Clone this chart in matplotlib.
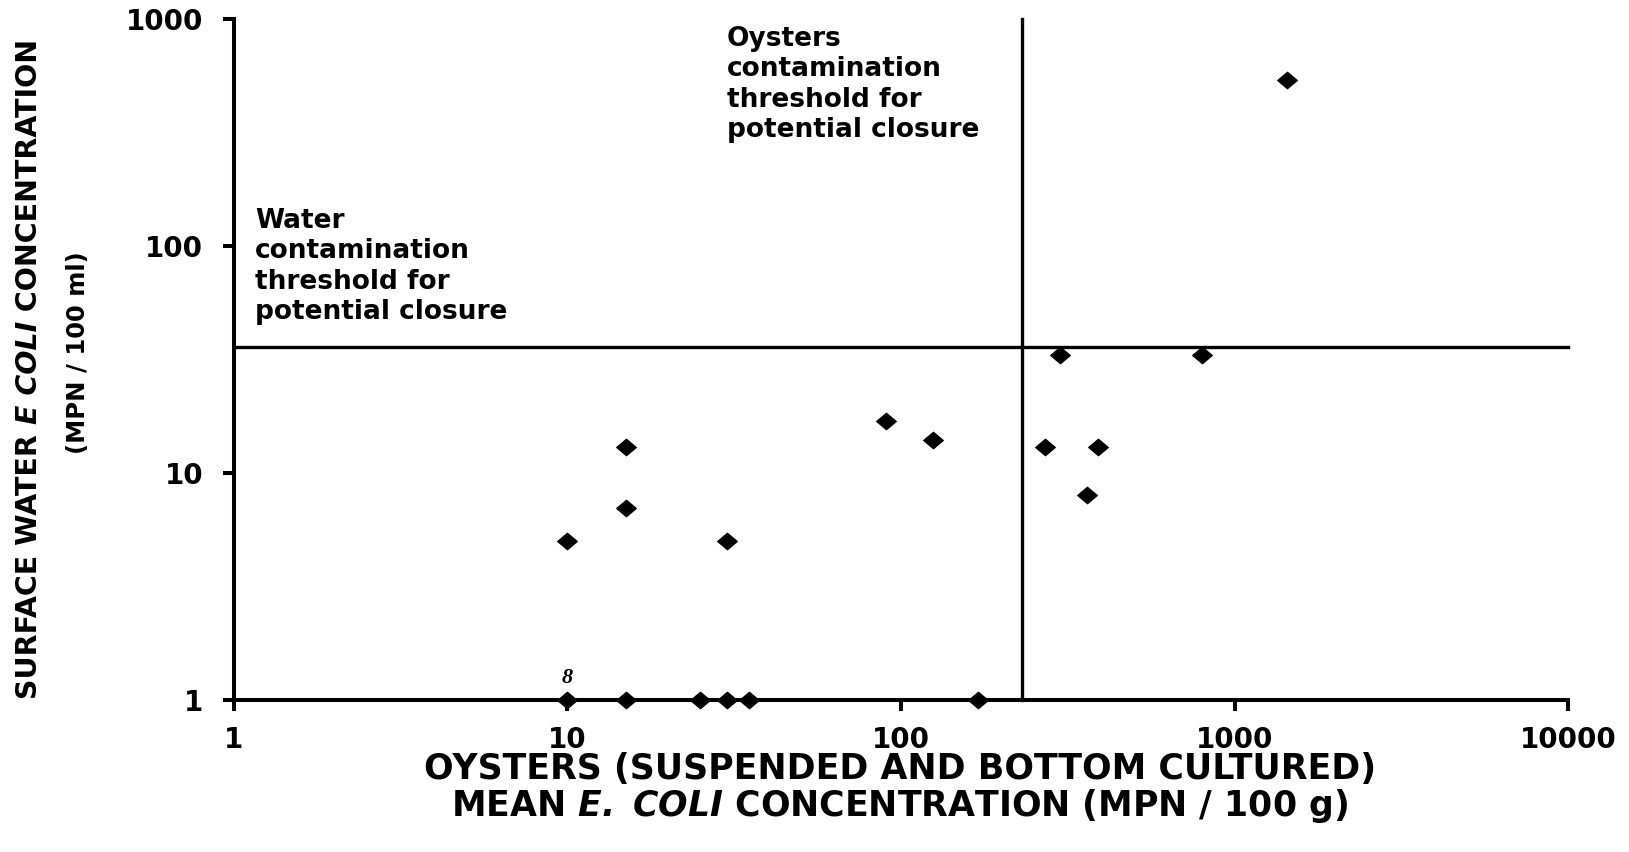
import numpy as np
import matplotlib
matplotlib.use("Agg")
import matplotlib.pyplot as plt
from matplotlib.path import Path

plt.rcParams['mathtext.fontset'] = 'custom'
plt.rcParams['mathtext.bf'] = 'DejaVu Sans:italic:bold'

# mean E. coli in oysters (MPN/100 g) vs surface water (MPN/100 ml)
oyster_ecoli = [10, 15, 25, 30, 35, 170,
                10, 15, 15, 30, 90, 125,
                270, 300, 390, 360, 800, 1440]
water_ecoli = [1, 1, 1, 1, 1, 1,
               5, 7, 13, 5, 17, 14,
               13, 33, 13, 8, 33, 540]

# closure thresholds
oyster_limit = 230
water_limit = 36

# number of samples stacked on the (10, 1) point
stacked_n = "8"

x_ticks = [1, 10, 100, 1000, 10000]
y_ticks = [1, 10, 100, 1000]

W, H = 1629, 852
fig = plt.figure(figsize=(W / 100, H / 100), dpi=100)
ax = fig.add_axes([0.1436, 0.1784, 0.819, 0.7993])

ax.set_xscale('log')
ax.set_yscale('log')
ax.set_xlim(1, 10000)
ax.set_ylim(1, 1000)

# threshold lines
ax.plot([1, 10000], [water_limit, water_limit], color='black', lw=2.4,
        clip_on=False, zorder=2)
ax.plot([oyster_limit, oyster_limit], [1, 1000], color='black', lw=2.4,
        clip_on=False, zorder=2)

# flattened diamond marker
diamond = Path([(-1, 0), (0, 0.84), (1, 0), (0, -0.84), (-1, 0)],
               [Path.MOVETO, Path.LINETO, Path.LINETO, Path.LINETO, Path.CLOSEPOLY])
ax.plot(oyster_ecoli, water_ecoli, linestyle='none', marker=diamond,
        markersize=14, color='black', clip_on=False, zorder=5)

ax.annotate(stacked_n, xy=(10, 1), xytext=(0, 9), textcoords='offset points',
            ha='center', va='bottom', fontsize=16, fontfamily='Liberation Serif',
            fontstyle='italic', fontweight='bold')

for side in ['top', 'right']:
    ax.spines[side].set_visible(False)
for side in ['left', 'bottom']:
    ax.spines[side].set_linewidth(2.9)

ax.minorticks_off()
ax.set_xticks(x_ticks)
ax.set_xticklabels([str(t) for t in x_ticks])
ax.set_yticks(y_ticks)
ax.set_yticklabels([str(t) for t in y_ticks])
ax.tick_params(axis='both', which='major', direction='out', length=8, width=2.9)
ax.tick_params(axis='x', pad=11)
ax.tick_params(axis='y', pad=14)
for lab in ax.get_xticklabels() + ax.get_yticklabels():
    lab.set_fontfamily('DejaVu Sans')
    lab.set_fontweight('bold')
    lab.set_fontsize(20)

# annotations
fig.text(255 / W, 1 - 208 / H,
         "Water\ncontamination\nthreshold for\npotential closure",
         ha='left', va='top', fontsize=19, fontweight='bold',
         fontfamily='DejaVu Sans', linespacing=1.22)
fig.text(727 / W, 1 - 26 / H,
         "Oysters\ncontamination\nthreshold for\npotential closure",
         ha='left', va='top', fontsize=19, fontweight='bold',
         fontfamily='DejaVu Sans', linespacing=1.22)

# x axis title
fig.text(900 / W, 1 - 769 / H, "OYSTERS (SUSPENDED AND BOTTOM CULTURED)",
         ha='center', va='center', fontsize=25, fontweight='bold',
         fontfamily='DejaVu Sans')
fig.text(900 / W, 1 - 806 / H,
         r"MEAN $\mathbf{E.\ COLI}$ CONCENTRATION (MPN / 100 g)",
         ha='center', va='center', fontsize=25, fontweight='bold',
         fontfamily='DejaVu Sans')

# y axis title, first line built from pieces so the italic part stays bold
renderer = fig.canvas.get_renderer()
pieces = [("SURFACE WATER ", 'normal'), ("E COLI", 'italic'), (" CONCENTRATION", 'normal')]
ylab_kw = dict(rotation=90, fontsize=20.5, fontweight='bold',
               fontfamily='DejaVu Sans', ha='center', va='bottom')
texts = [fig.text(0, 0, s, fontstyle=st, **ylab_kw) for s, st in pieces]
heights = [t.get_window_extent(renderer).height for t in texts]
y0 = (H - 369) - sum(heights) / 2
for t, h in zip(texts, heights):
    t.set_position((29 / W, y0 / H))
    y0 += h

fig.text(78 / W, 1 - 353 / H, "(MPN / 100 ml)",
         ha='center', va='center', rotation=90, fontsize=17.5,
         fontweight='bold', fontfamily='DejaVu Sans')

fig.savefig('out.png', dpi=100, facecolor='white')
